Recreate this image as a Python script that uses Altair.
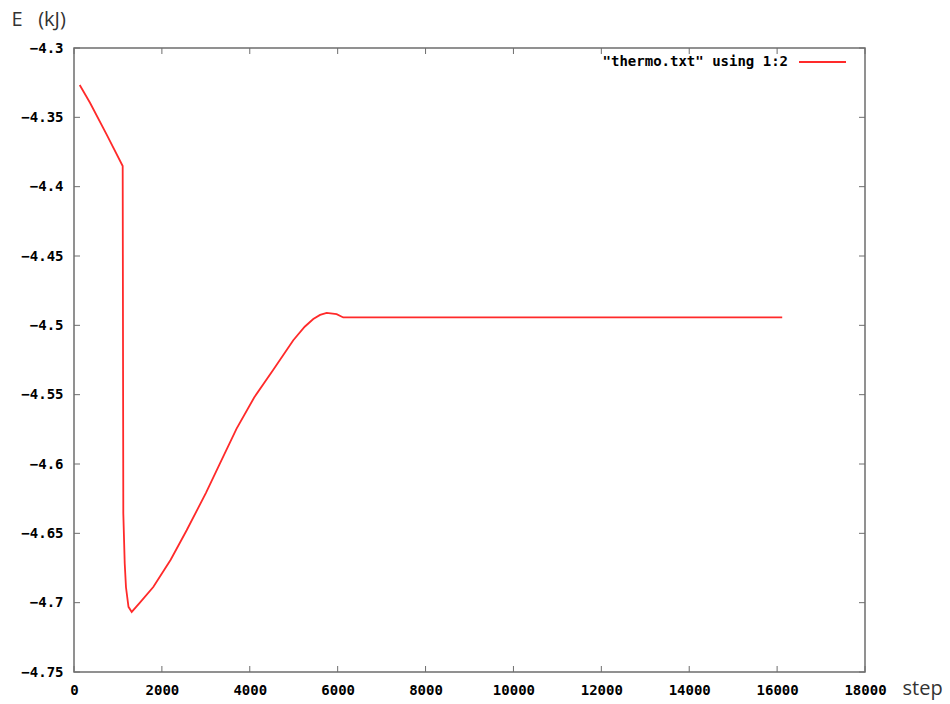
import altair as alt
import pandas as pd

steps = [130, 364, 744, 1108, 1122, 1154, 1183, 1240, 1313, 1500, 1804, 2200, 2564, 3000, 3322, 3700,
         4100, 4535, 4990, 5250, 5445, 5600, 5750, 5977, 6127, 10000, 16116]
energy = [-4.3267, -4.3395, -4.3625, -4.3851, -4.6355, -4.6716, -4.6889, -4.7030, -4.7067, -4.7000,
          -4.6887, -4.6690, -4.6478, -4.6210, -4.5996, -4.5745, -4.5520, -4.5320, -4.5107, -4.5010,
          -4.4955, -4.4925, -4.4910, -4.4919, -4.4943, -4.4943, -4.4943]

x_ticks = [0, 2000, 4000, 6000, 8000, 10000, 12000, 14000, 16000, 18000]
y_ticks = [-4.75, -4.7, -4.65, -4.6, -4.55, -4.5, -4.45, -4.4, -4.35, -4.3]

legend_label = '"thermo.txt" using 1:2'
x_title = "step"
y_title = "E\u00a0\u00a0\u00a0(kJ)"

W, H = 791, 624
TICK = 6
FRAME = "#6e6e6e"
LABEL_FONT = "DejaVu Sans Mono"

df = pd.DataFrame({"step": steps, "E": energy})
xt = pd.DataFrame({"step": x_ticks})
yt = pd.DataFrame({"E": y_ticks})

xscale = alt.Scale(domain=[0, 18000], nice=False, zero=False)
yscale = alt.Scale(domain=[-4.75, -4.3], nice=False, zero=False)

x_axis = alt.Axis(values=x_ticks, format="d", domain=False, ticks=False, grid=False,
                  labelFont=LABEL_FONT, labelFontWeight="bold", labelFontSize=14,
                  labelColor="#000", labelPadding=11, labelFlush=False,
                  title=x_title, titleFont="Open Sans", titleFontSize=20, titleFontWeight="normal",
                  titleColor="#333", titleAnchor="start", titleAlign="left", titleBaseline="middle",
                  titleX=828, titleY=16, labelOverlap=False)
y_axis = alt.Axis(values=y_ticks, format="~g", domain=False, ticks=False, grid=False,
                  labelFont=LABEL_FONT, labelFontWeight="bold", labelFontSize=14,
                  labelColor="#000", labelPadding=11, labelFlush=False,
                  title=y_title, titleFont="Open Sans", titleFontSize=20, titleFontWeight="normal",
                  titleColor="#333", titleAngle=0, titleAlign="left", titleBaseline="middle",
                  titleX=-63, titleY=-29, labelOverlap=False)

X = alt.X("step:Q", scale=xscale, axis=x_axis)
Y = alt.Y("E:Q", scale=yscale, axis=y_axis)

line = alt.Chart(df).mark_line(color="#ff2a2a", strokeWidth=1.8, clip=True).encode(x=X, y=Y)

tick_style = dict(color=FRAME, strokeWidth=1)
xb = alt.Chart(xt).mark_rule(**tick_style).encode(x=X, y=alt.value(H), y2=alt.value(H - TICK))
xtop = alt.Chart(xt).mark_rule(**tick_style).encode(x=X, y=alt.value(0), y2=alt.value(TICK))
yl = alt.Chart(yt).mark_rule(**tick_style).encode(y=Y, x=alt.value(0), x2=alt.value(TICK))
yr = alt.Chart(yt).mark_rule(**tick_style).encode(y=Y, x=alt.value(W), x2=alt.value(W - TICK))

leg_text = alt.Chart(pd.DataFrame({"t": [legend_label]})).mark_text(
    font=LABEL_FONT, fontWeight="bold", fontSize=14, align="right", baseline="middle", color="#000"
).encode(text="t:N", x=alt.value(714), y=alt.value(14))
leg_line = alt.Chart(pd.DataFrame({"t": [legend_label]})).mark_rule(
    color="#ff2a2a", strokeWidth=1.8
).encode(x=alt.value(725), x2=alt.value(772), y=alt.value(14))

chart = alt.layer(line, xb, xtop, yl, yr, leg_text, leg_line).properties(
    width=W, height=H,
    autosize=alt.AutoSizeParams(type="none"),
    padding={"left": 74, "top": 48, "right": 85, "bottom": 32},
    background="white",
).configure_view(stroke=FRAME, strokeWidth=1.5)

chart.save("out.html", embed_options={"renderer": "svg", "actions": False})
